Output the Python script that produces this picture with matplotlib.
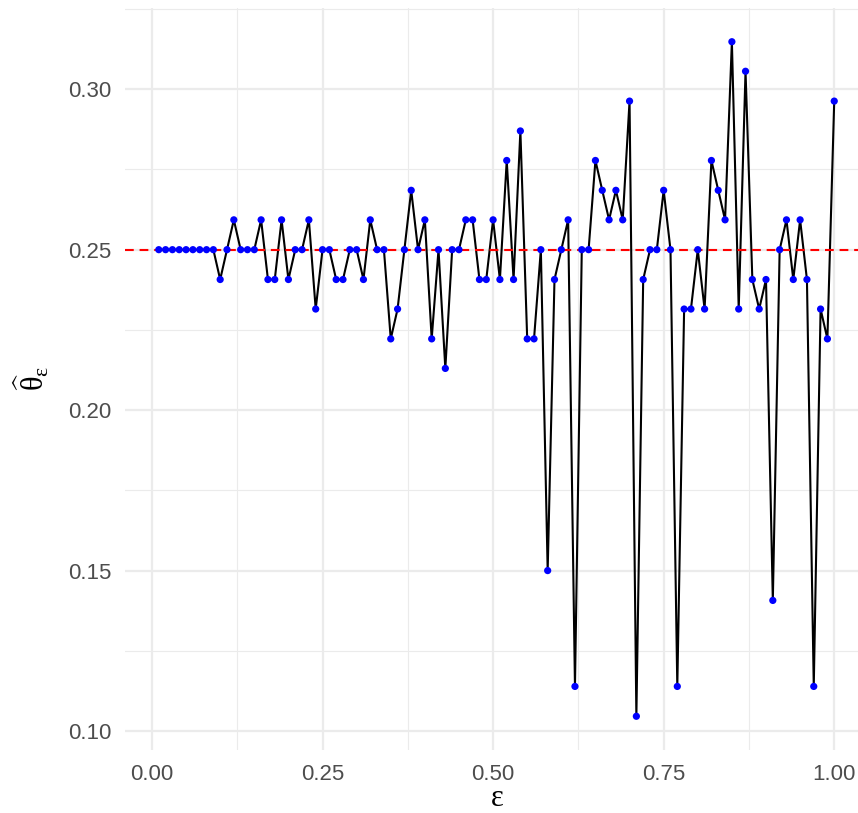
import numpy as np
import matplotlib
matplotlib.use("Agg")
import matplotlib.pyplot as plt
from matplotlib.ticker import MultipleLocator

plt.rcParams['font.family'] = ['Liberation Sans', 'DejaVu Sans']
plt.rcParams['mathtext.fontset'] = 'custom'
plt.rcParams['mathtext.rm'] = 'Liberation Serif'
plt.rcParams['mathtext.it'] = 'Liberation Serif'
plt.rcParams['mathtext.bf'] = 'Liberation Serif:bold'

epsilon = np.round(np.arange(1, 101) / 100, 2)
theta_hat = [
    0.25, 0.25, 0.25, 0.25, 0.25, 0.25, 0.25, 0.25, 0.25, 0.2407,
    0.25, 0.2593, 0.25, 0.25, 0.25, 0.2593, 0.2407, 0.2407, 0.2593, 0.2407,
    0.25, 0.25, 0.2593, 0.2315, 0.25, 0.25, 0.2407, 0.2407, 0.25, 0.25,
    0.2407, 0.2593, 0.25, 0.25, 0.2222, 0.2315, 0.25, 0.2685, 0.25, 0.2593,
    0.2222, 0.25, 0.2130, 0.25, 0.25, 0.2593, 0.2593, 0.2407, 0.2407, 0.2593,
    0.2407, 0.2778, 0.2407, 0.2870, 0.2222, 0.2222, 0.25, 0.1500, 0.2407, 0.25,
    0.2593, 0.1139, 0.25, 0.25, 0.2778, 0.2685, 0.2593, 0.2685, 0.2593, 0.2963,
    0.1046, 0.2407, 0.25, 0.25, 0.2685, 0.25, 0.1139, 0.2315, 0.2315, 0.25,
    0.2315, 0.2778, 0.2685, 0.2593, 0.3148, 0.2315, 0.3056, 0.2407, 0.2315, 0.2407,
    0.1407, 0.25, 0.2593, 0.2407, 0.2593, 0.2407, 0.1139, 0.2315, 0.2222, 0.2963,
]
true_theta = 0.25

W, H = 858, 813
fig = plt.figure(figsize=(W / 100, H / 100), dpi=100)
left, right, top, bottom = 125, 868, 8, 750
ax = fig.add_axes([left / W, 1 - bottom / H, (right - left) / W, (bottom - top) / H])

ax.plot(epsilon, theta_hat, color='black', linewidth=1.5, zorder=2)
ax.axhline(true_theta, color='red', linestyle=(0, (4.2, 2.8)), linewidth=1.5, zorder=3)
ax.scatter(epsilon, theta_hat, s=27, color='blue', edgecolors='none', zorder=4)

x0, x1 = min(epsilon), max(epsilon)
y0, y1 = min(theta_hat), max(theta_hat)
ax.set_xlim(x0 - 0.05 * (x1 - x0), x1 + 0.05 * (x1 - x0))
ax.set_ylim(y0 - 0.05 * (y1 - y0), y1 + 0.05 * (y1 - y0))

ax.xaxis.set_major_locator(MultipleLocator(0.25))
ax.xaxis.set_minor_locator(MultipleLocator(0.125))
ax.yaxis.set_major_locator(MultipleLocator(0.05))
ax.yaxis.set_minor_locator(MultipleLocator(0.025))
ax.xaxis.set_major_formatter(matplotlib.ticker.FormatStrFormatter('%.2f'))
ax.yaxis.set_major_formatter(matplotlib.ticker.FormatStrFormatter('%.2f'))

ax.grid(which='major', color='#EBEBEB', linewidth=1.6, zorder=0)
ax.grid(which='minor', color='#EBEBEB', linewidth=0.8, zorder=0)
ax.set_axisbelow(True)
for s in ax.spines.values():
    s.set_visible(False)
ax.tick_params(which='both', length=0)
ax.tick_params(axis='x', labelsize=16, labelcolor='#4D4D4D', pad=10)
ax.tick_params(axis='y', labelsize=16, labelcolor='#4D4D4D', pad=10)

fig.text(497 / W, 1 - 806 / H, r'$\varepsilon$', fontsize=22, ha='center', va='baseline', color='black')
fig.text(32 / W, 1 - 378 / H, r'$\widehat{\theta}_{\varepsilon}$', fontsize=22, ha='center', va='center',
         rotation=90, color='black')

fig.savefig('out.png', dpi=100)
